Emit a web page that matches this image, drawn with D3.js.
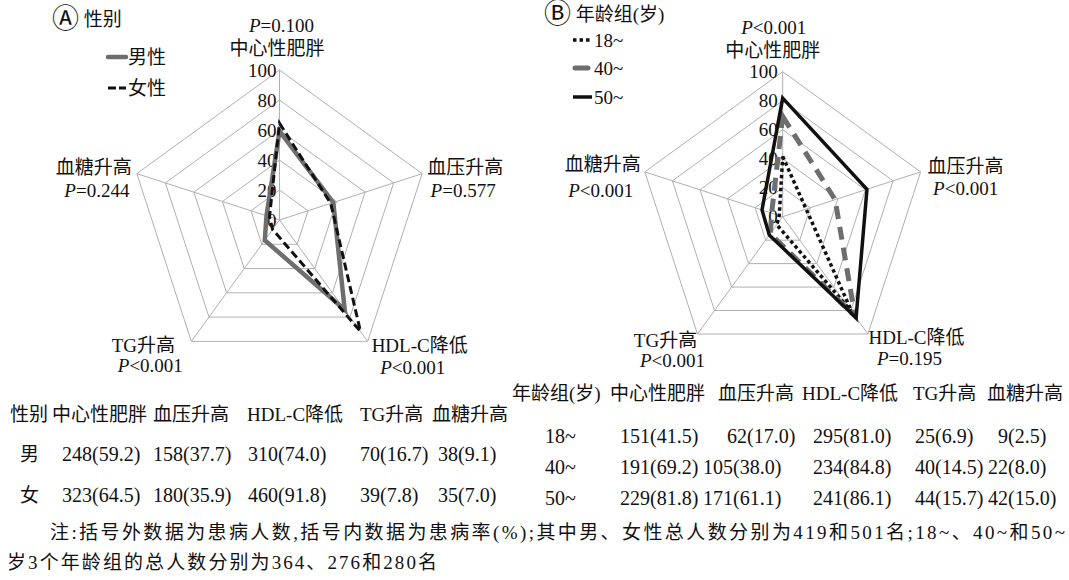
<!DOCTYPE html>
<html><head><meta charset="utf-8">
<script src="https://cdn.jsdelivr.net/npm/d3@7"></script>
<style>
body{margin:0;background:#fff;}
svg text{font-family:"Liberation Serif","Noto Sans CJK SC",serif;fill:#111;}
</style></head><body>
<svg id="chart" width="1069" height="580"></svg>
<script>
// ---------------- data ----------------
const axes = ["中心性肥胖","血压升高","HDL-C降低","TG升高","血糖升高"];
const ticks = [0,20,40,60,80,100];
const pSex = ["P=0.100","P=0.577","P<0.001","P<0.001","P=0.244"];
const pAge = ["P<0.001","P<0.001","P=0.195","P<0.001","P<0.001"];
const male   = [59.2,37.7,74.0,16.7,9.1];
const female = [64.5,35.9,91.8,7.8,7.0];
const age18  = [41.5,17.0,81.0,6.9,2.5];
const age40  = [69.2,38.0,84.8,14.5,8.0];
const age50  = [81.8,61.1,86.1,15.7,15.0];
const sexNames = ["男性","女性"];
const ageNames = ["18~","40~","50~"];
const titleA = "Ⓐ 性别";
const titleB = "Ⓑ 年龄组(岁)";
const tableAHeader = ["性别","中心性肥胖","血压升高","HDL-C降低","TG升高","血糖升高"];
const tableARows = [
  ["男","248(59.2)","158(37.7)","310(74.0)","70(16.7)","38(9.1)"],
  ["女","323(64.5)","180(35.9)","460(91.8)","39(7.8)","35(7.0)"]
];
const tableBHeader = ["年龄组(岁)","中心性肥胖","血压升高","HDL-C降低","TG升高","血糖升高"];
const tableBRows = [
  ["18~","151(41.5)","62(17.0)","295(81.0)","25(6.9)","9(2.5)"],
  ["40~","191(69.2)","105(38.0)","234(84.8)","40(14.5)","22(8.0)"],
  ["50~","229(81.8)","171(61.1)","241(86.1)","44(15.7)","42(15.0)"]
];
const noteLines = [
  "注:括号外数据为患病人数,括号内数据为患病率(%);其中男、女性总人数分别为419和501名;18~、40~和50~",
  "岁3个年龄组的总人数分别为364、276和280名"
];

// ---------------- drawing ----------------
const svg = d3.select("#chart");
svg.append("rect").attr("width",1069).attr("height",580).attr("fill","#fff");

function pText(sel, s){
  sel.append("tspan").style("font-style","italic").text(s[0]);
  sel.append("tspan").text(s.slice(1));
}

function radar(cfg){
  const g = svg.append("g").attr("transform",`translate(${cfg.cx},${cfg.cy})`);
  const r = d3.scaleLinear().domain([0,100]).range([0,cfg.R]);
  const a = d3.scaleLinear().domain([0,axes.length]).range([0,2*Math.PI]);
  const line = d3.lineRadial().angle((d,i)=>a(i)).radius(d=>r(d)).curve(d3.curveLinearClosed);
  const vx = (i,v)=> r(v)*Math.sin(a(i));
  const vy = (i,v)=> -r(v)*Math.cos(a(i));

  g.selectAll(null).data(ticks.filter(t=>t>0)).enter().append("path")
    .attr("d",t=>line(axes.map(()=>t)))
    .attr("fill","none").attr("stroke","#b0b0b0").attr("stroke-width",1);
  g.selectAll(null).data(axes).enter().append("line")
    .attr("x1",0).attr("y1",0)
    .attr("x2",(d,i)=>vx(i,100)).attr("y2",(d,i)=>vy(i,100))
    .attr("stroke","#b0b0b0").attr("stroke-width",1);

  g.selectAll(null).data(ticks).enter().append("text")
    .attr("x",cfg.tickDx).attr("y",t=>-r(t)).attr("dy","0.35em")
    .attr("text-anchor","end").style("font-size","19px").text(t=>t);

  axes.forEach((name,i)=>{
    const o = cfg.labelOff[i];
    const x0 = vx(i,100), y0 = vy(i,100);
    g.append("text").attr("x",x0+o[0]).attr("y",y0+o[1]).attr("dy","0.35em")
      .attr("text-anchor","middle").style("font-size","19px").text(name);
    g.append("text").attr("x",x0+o[2]).attr("y",y0+o[3]).attr("dy","0.35em")
      .attr("text-anchor","middle").style("font-size","19px").call(pText, cfg.p[i]);
  });

  cfg.series.forEach(s=>{
    g.append("path").attr("d",line(s.values))
      .attr("fill","none").attr("stroke",s.color).attr("stroke-width",s.width)
      .attr("stroke-dasharray",s.dash).attr("stroke-linejoin","miter")
      .attr("stroke-linecap",s.cap||"butt");
  });
}

const styleMale   = {color:"#6e6e6e", width:4.5, dash:null};
const styleFemale = {color:"#111", width:3, dash:"8,4"};
const style18 = {color:"#111", width:3.5, dash:"3.5,3"};
const style40 = {color:"#6e6e6e", width:5, dash:"13,8"};
const style50 = {color:"#111", width:3.5, dash:null};

radar({
  cx:279.5, cy:220, R:150, tickDx:-3, p:pSex,
  labelOff:[[-2.5,-22,2,-45],[43,-6.6,41,16.4],[52,3.6,45,25.6],[-48,3.6,-41,23.6],[-43,-6.6,-40,16.4]],
  series:[Object.assign({values:male},styleMale),Object.assign({values:female},styleFemale)]
});
radar({
  cx:782.7, cy:216.7, R:145, tickDx:-5, p:pAge,
  labelOff:[[-10,-21.7,-9,-44.7],[45,-6,45,16],[48.6,3,41.6,24],[-32,6,-25,26],[-42,-8,-44,18]],
  series:[Object.assign({values:age18},style18),Object.assign({values:age40},style40),Object.assign({values:age50},style50)]
});

// titles and legends
function title(x,y,t){
  const el = svg.append("text").attr("x",x).attr("y",y).attr("dy","0.35em").style("font-size","19px");
  el.append("tspan").style("font-size","27px").attr("dy","0.3em").text(t[0]);
  el.append("tspan").attr("dy","-0.1em").text(t.slice(1));
}
title(52,20,titleA);
title(544,15,titleB);

const legA = [[57,styleMale],[88,styleFemale]];
legA.forEach(([y,s],i)=>{
  svg.append("line").attr("x1",108).attr("x2",126).attr("y1",y).attr("y2",y)
    .attr("stroke",s.color).attr("stroke-width",s.width).attr("stroke-linecap",i===0?"round":"butt")
    .attr("stroke-dasharray",i===0?null:"8,3");
  svg.append("text").attr("x",128).attr("y",y).attr("dy","0.35em").style("font-size","19px").text(sexNames[i]);
});
const legB = [[40,style18,"3.5,3",573,591],[68,style40,null,575,588],[97,style50,null,573,592]];
legB.forEach(([y,s,dash,x1,x2],i)=>{
  svg.append("line").attr("x1",x1).attr("x2",x2).attr("y1",y).attr("y2",y)
    .attr("stroke",s.color).attr("stroke-width",s.width)
    .attr("stroke-linecap",i===1?"round":"butt").attr("stroke-dasharray",dash);
  svg.append("text").attr("x",594).attr("y",y).attr("dy","0.35em").style("font-size","19px").text(ageNames[i]);
});

// tables
function cell(x,y,txt,size,anchor){
  svg.append("text").attr("x",x).attr("y",y).attr("dy","0.35em")
    .attr("text-anchor",anchor||"start").style("font-size",size+"px").text(txt);
}
const aHeadX=[10,52,153,247,360,432], aRowX=[20,62,153,248,360,438];
tableAHeader.forEach((h,j)=>cell(aHeadX[j],414,h,19));
tableARows.forEach((row,i)=>row.forEach((v,j)=>cell(aRowX[j],454+41*i,v,j===0?19:20)));

const bHeadX=[512,610,718,802,913,987], bRowX=[545,620,703,813,915,988];
const bIndent={"0-2":24,"0-5":10};
tableBHeader.forEach((h,j)=>cell(bHeadX[j],393,h,19));
tableBRows.forEach((row,i)=>row.forEach((v,j)=>cell(bRowX[j]+(bIndent[i+"-"+j]||0),436+31*i,v,20)));

// note
const noteX=[50,7], noteY=[532,562], noteLen=[1015,430];
noteLines.forEach((t,i)=>{
  svg.append("text").attr("x",noteX[i]).attr("y",noteY[i]).attr("dy","0.35em")
    .attr("textLength",noteLen[i]).attr("lengthAdjust","spacing")
    .style("font-size","19px").text(t);
});
</script>
</body></html>
